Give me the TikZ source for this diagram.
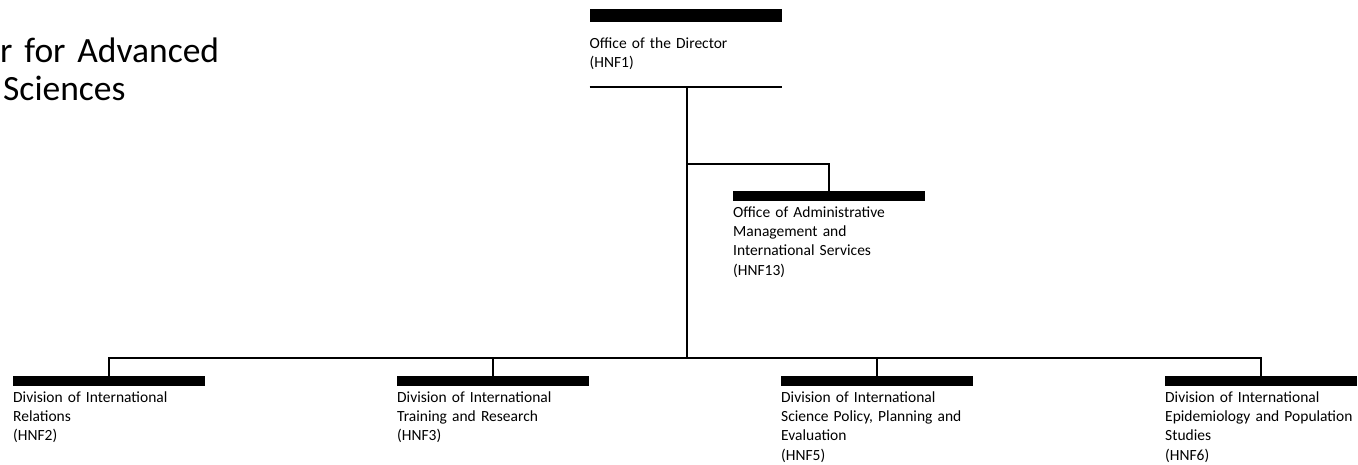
\documentclass[tikz,border=0pt]{standalone}
\usepackage{fontspec}
\setmainfont{Carlito}
\usepackage{tikz}
\usetikzlibrary{positioning}
\tikzstyle{orgbar}=[fill=black,draw=none,minimum width=192pt,minimum height=10pt,inner sep=0,outer sep=0]
\tikzstyle{orglbl}=[anchor=base west,inner sep=0,text width=200pt,align=left,font=\fontsize{15.5}{19.2}\selectfont]
\tikzstyle{orgline}=[line width=1.8pt]
\tikzstyle{bigtitle}=[anchor=base west,inner sep=0,text width=300pt,align=left,font=\fontsize{35.5}{38.5}\selectfont]
\newcommand{\orglabel}[2]{\node[orglbl] (#1t) at ([yshift=-16.5pt]#1.south west) {#2};}
\newcommand{\nextdiv}[3]{\node[orgbar,right=192pt of #1] (#2) {};\orglabel{#2}{#3}}

\begin{document}
\begin{tikzpicture}[x=1pt,y=-1pt]
  \useasboundingbox (0,0) rectangle (1358,464);

  \node[bigtitle] (ttl) at (0,62) {r for Advanced\\\hspace*{3pt}Sciences};

  % director
  \node[orgbar,minimum height=13pt] (hnf1) at (685.5,15.5) {};
  \node[orglbl] (hnf1t) at ([yshift=-26pt]hnf1.south west) {Office of the Director\\(HNF1)};
  \coordinate (hnf1b) at (687,87);
  \draw[orgline] (hnf1b -| hnf1.west) -- (hnf1b -| hnf1.east);

  % staff office
  \node[orgbar] (hnf13) at (829,196) {};
  \orglabel{hnf13}{Office of Administrative\\Management and\\International Services\\(HNF13)}
  \coordinate (adm) at (687,164);

  % divisions
  \node[orgbar] (hnf2) at (109,381) {};
  \orglabel{hnf2}{Division of International\\Relations\\(HNF2)}
  \nextdiv{hnf2}{hnf3}{Division of International\\Training and Research\\(HNF3)}
  \nextdiv{hnf3}{hnf5}{Division of International\\Science Policy, Planning and\\Evaluation\\(HNF5)}
  \nextdiv{hnf5}{hnf6}{Division of International\\Epidemiology and Population\\Studies\\(HNF6)}
  \coordinate (bus) at (687,358);

  \draw[orgline] (hnf1b) -- (bus);
  \draw[orgline] (adm) -| (hnf13.north);
  \draw[orgline] (hnf2.north) |- (bus) -| (hnf6.north);
  \draw[orgline] (bus -| hnf3) -- (hnf3.north);
  \draw[orgline] (bus -| hnf5) -- (hnf5.north);
\end{tikzpicture}
\end{document}
